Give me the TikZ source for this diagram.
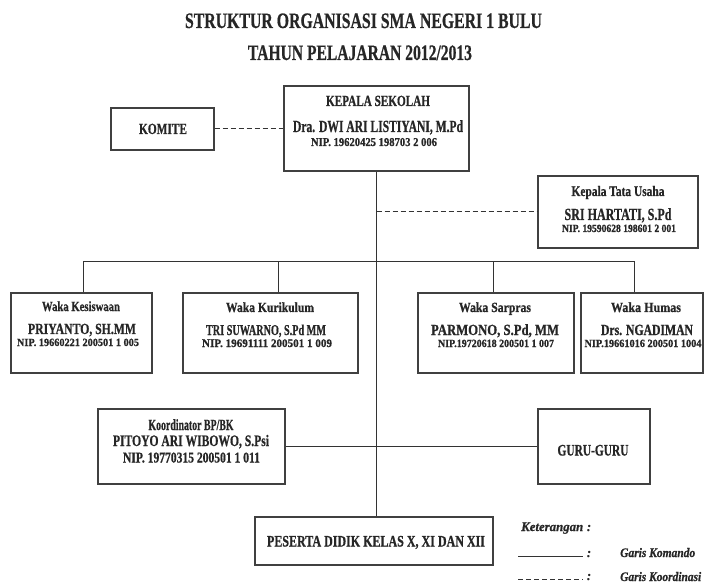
\documentclass[tikz,border=0pt]{standalone}
\usepackage{fontspec}
\setmainfont{Liberation Serif}[BoldFeatures={FakeBold=0.8},BoldItalicFeatures={FakeBold=0.8}]
\usepackage{graphicx}
\newcommand\fw[2]{\resizebox{#1pt}{\height}{#2}}
\begin{document}
\begin{tikzpicture}[x=1pt,y=-1pt,
  box/.style={draw=black!75, line width=1.2pt, inner sep=0pt, fill=white},
  ln/.style={draw=black!80, line width=1pt},
  dsh/.style={ln, dash pattern=on 5pt off 3pt},
  txt/.style={inner sep=0pt, anchor=base, text=black!85},
  ltxt/.style={inner sep=0pt, anchor=base west, text=black!85},
  fs/.style={font=\bfseries\fontsize{#1}{#1}\selectfont},
  fi/.style={font=\bfseries\itshape\fontsize{#1}{#1}\selectfont}]
\useasboundingbox (0,0) rectangle (705,583);

% boxes
\node[box, minimum width=185pt, minimum height=85pt] (kepala) at (376.5,128.5) {};
\node[box, minimum width=103pt, minimum height=42pt] (komite) at (162.5,129) {};
\node[box, minimum width=160pt, minimum height=72pt] (tu) at (618,212) {};
\node[box, minimum width=141pt, minimum height=80pt] (kes) at (81.5,333) {};
\node[box, minimum width=175pt, minimum height=80pt] (kur) at (270.5,333) {};
\node[box, minimum width=156pt, minimum height=80pt] (sar) at (496,333) {};
\node[box, minimum width=122pt, minimum height=80pt] (hum) at (642,333) {};
\node[box, minimum width=187pt, minimum height=75pt] (bk) at (191.5,446.5) {};
\node[box, minimum width=112pt, minimum height=75pt] (guru) at (594,446.5) {};
\node[box, minimum width=238pt, minimum height=48pt] (ps) at (374,541) {};

% connectors
\coordinate (bus) at (376,262);
\draw[ln] (kepala.south) -- (kepala.south |- ps.north);
\draw[dsh] (komite.east) -- (komite.east -| kepala.west);
\draw[dsh] (kepala.south |- tu.west) -- (tu.west);
\draw[ln] ([xshift=1.5pt]kes.north) |- ([xshift=-8pt]hum.north |- bus) -- ([xshift=-8pt]hum.north);
\draw[ln] ([xshift=7.5pt]kur.north) -- ([xshift=7.5pt]kur.north |- bus);
\draw[ln] ([xshift=-3pt]sar.north) -- ([xshift=-3pt]sar.north |- bus);
\draw[ln] (bk.east) -- (bk.east -| guru.west);

% titles
\node[txt, fs=22] (title1) at (363.5,28) {\fw{357}{STRUKTUR ORGANISASI SMA NEGERI 1 BULU}};
\node[txt, fs=22] (title2) at (360,60) {\fw{224}{TAHUN PELAJARAN 2012/2013}};

% kepala sekolah
\node[txt, fs=15.5] (ks1) at (378,106) {\fw{104}{KEPALA SEKOLAH}};
\node[txt, fs=17] (ks2) at (378,132) {\fw{170}{Dra. DWI ARI LISTIYANI, M.Pd}};
\node[txt, fs=12] (ks3) at (374,146) {\fw{126}{NIP. 19620425 198703 2 006}};

% komite
\node[txt, fs=15.5] (km) at (163,134) {\fw{48}{KOMITE}};

% tata usaha
\node[txt, fs=14.5] (tu1) at (618,196) {\fw{93}{Kepala Tata Usaha}};
\node[txt, fs=17] (tu2) at (618,220) {\fw{107}{SRI HARTATI, S.Pd}};
\node[txt, fs=11] (tu3) at (619,232) {\fw{114}{NIP. 19590628 198601 2 001}};

% waka
\node[txt, fs=14] (kes1) at (81,311) {\fw{78}{Waka Kesiswaan}};
\node[txt, fs=15.5] (kes2) at (82,334) {\fw{108}{PRIYANTO, SH.MM}};
\node[txt, fs=11] (kes3) at (78,346) {\fw{122}{NIP. 19660221 200501 1 005}};

\node[txt, fs=14] (kur1) at (270,312) {\fw{88}{Waka Kurikulum}};
\node[txt, fs=15] (kur2) at (266,335) {\fw{120}{TRI SUWARNO, S.Pd MM}};
\node[txt, fs=11.5] (kur3) at (267,347) {\fw{130}{NIP. 19691111 200501 1 009}};

\node[txt, fs=14] (sar1) at (495,312) {\fw{72}{Waka Sarpras}};
\node[txt, fs=15.5] (sar2) at (495,335) {\fw{128}{PARMONO, S.Pd, MM}};
\node[txt, fs=11] (sar3) at (496,347) {\fw{116}{NIP.19720618 200501 1 007}};

\node[txt, fs=14] (hum1) at (646,312) {\fw{70}{Waka Humas}};
\node[txt, fs=15.5] (hum2) at (647,335) {\fw{92}{Drs. NGADIMAN}};
\node[txt, fs=11] (hum3) at (643,347) {\fw{117}{NIP.19661016 200501 1004}};

% koordinator
\node[txt, fs=15.5] (bk1) at (191,430) {\fw{85}{Koordinator BP/BK}};
\node[txt, fs=16] (bk2) at (191,446) {\fw{156}{PITOYO ARI WIBOWO, S.Psi}};
\node[txt, fs=15] (bk3) at (191.5,462.5) {\fw{137}{NIP. 19770315 200501 1 011}};

% guru, peserta
\node[txt, fs=16] (gr) at (593,455.5) {\fw{71}{GURU-GURU}};
\node[txt, fs=16] (pst) at (376,546.5) {\fw{218}{PESERTA DIDIK KELAS X, XI DAN XII}};

% legend
\node[ltxt, fi=13] (lg1) at (521,531) {\fw{62}{Keterangan}};
\node[txt, fi=13] (lc1) at (589,531) {:};
\coordinate (ls1) at (518,556);
\coordinate (ls2) at (583,556);
\draw[ln] (ls1) -- (ls2);
\node[txt, fi=13] (lc2) at (589,557) {:};
\node[ltxt, fi=13] (lg2) at (620,557) {\fw{75}{Garis Komando}};
\coordinate (ld1) at (518,579);
\coordinate (ld2) at (583,579);
\draw[dsh] (ld1) -- (ld2);
\node[txt, fi=13] (lc3) at (589,580) {:};
\node[ltxt, fi=13] (lg3) at (620,581) {\fw{81}{Garis Koordinasi}};
\end{tikzpicture}
\end{document}
